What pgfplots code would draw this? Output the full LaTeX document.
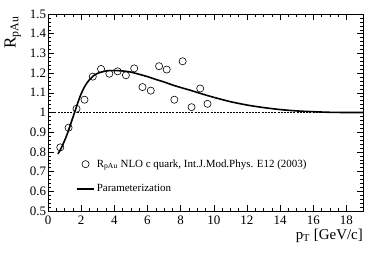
\documentclass[border=0pt]{standalone}
\usepackage{pgfplots}
\pgfplotsset{compat=1.18}
\usepackage{fontspec}
\setmainfont{Liberation Serif}
\begin{document}
\begin{tikzpicture}
\begin{axis}[
  name=ax,
  at={(0,0)}, anchor=south west,
  scale only axis, width=315bp, height=197bp,
  xmin=0, xmax=19, ymin=0.5, ymax=1.5,
  xtick={0,2,...,18}, ytick={0.5,0.6,...,1.5},
  minor x tick num=3, minor y tick num=4,
  tick align=inside, tick pos=both,
  major tick length=6bp, minor tick length=3bp,
  axis line style={line width=0.8pt},
  every tick/.style={line width=0.5pt, black},
  /pgf/number format/assume math mode=true,
  ticklabel style={font=\fontsize{13}{15}\selectfont},
  xticklabel style={yshift=-1bp},
  yticklabel style={xshift=1.5bp},
  legend style={draw=none, fill=none, at={(axis description cs:0.089,0.175)}, anchor=west, inner sep=0pt, row sep=12bp, font=\fontsize{11}{13}\selectfont},
  legend cell align=left,
]
\addplot[black, line width=0.8pt, dash pattern=on 2pt off 1.2pt, forget plot] coordinates {(0,1) (19,1)};
\addplot[only marks, mark=o, mark size=3.6pt, black, mark options={line width=0.6pt}] coordinates {
(0.74,0.823) (1.24,0.923) (1.72,1.019) (2.2,1.065) (2.7,1.182) (3.2,1.221)
(3.7,1.197) (4.2,1.209) (4.7,1.189) (5.2,1.224) (5.7,1.129) (6.2,1.111)
(6.7,1.235) (7.16,1.218) (7.62,1.065) (8.12,1.26) (8.66,1.027) (9.18,1.122) (9.62,1.044)
};
\addlegendentry{R$_{\mathrm{pAu}}$ NLO c quark, Int.J.Mod.Phys. E12 (2003)}
\addplot[black, line width=1.6pt, smooth] coordinates {
(0.6,0.79) (0.8,0.82) (1.0,0.857) (1.2,0.90) (1.4,0.95) (1.6,1.0) (1.8,1.05)
(2.0,1.095) (2.2,1.13) (2.4,1.156) (2.6,1.175) (2.8,1.19) (3.0,1.199)
(3.3,1.207) (3.6,1.212) (4.0,1.213) (4.5,1.211) (5.0,1.205) (5.5,1.194)
(6.0,1.182) (6.5,1.168) (7.0,1.155) (7.5,1.14) (8.0,1.127) (8.5,1.115)
(9.0,1.102) (9.5,1.089) (10.0,1.077) (11.0,1.055) (12.0,1.038) (13.0,1.025)
(14.0,1.015) (15.0,1.008) (16.0,1.004) (17.0,1.001) (18.0,1.0) (19.0,1.0)
};
\addlegendentry{Parameterization}
\end{axis}
\node[rotate=90, anchor=south east, inner sep=0pt, font=\fontsize{17}{19}\selectfont] at ([xshift=-27bp, yshift=-2bp]ax.north west) {R$_{\mathrm{pAu}}$};
\node[anchor=north east, inner sep=0pt, font=\fontsize{15}{17}\selectfont] at ([yshift=-18bp]ax.south east) {p$_{\mathrm{T}}$ [GeV/c]};
\pgfresetboundingbox
\path (-48bp,-42bp) rectangle (326bp,211bp);
\end{tikzpicture}
\end{document}
